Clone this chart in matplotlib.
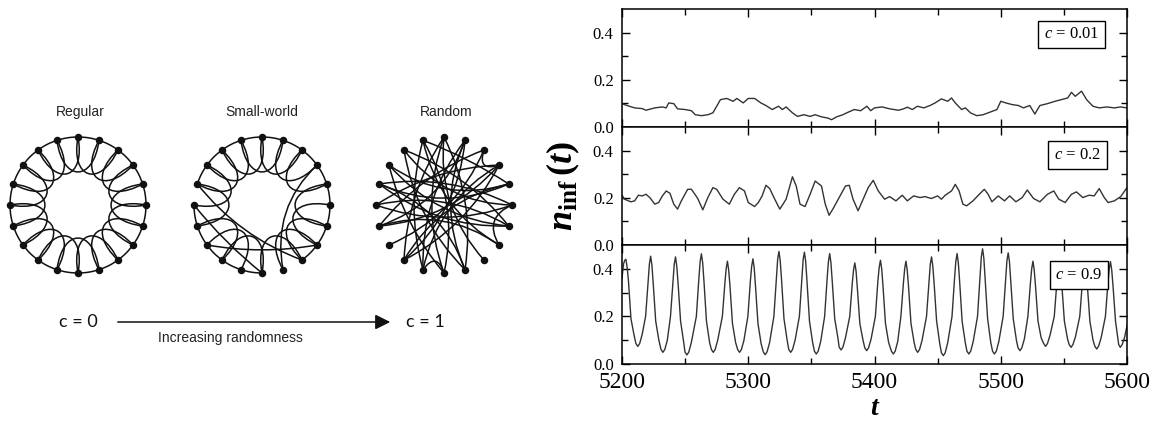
import numpy as np
import matplotlib.pyplot as plt
from matplotlib.path import Path
from matplotlib.patches import PathPatch, Arc, FancyArrowPatch

plt.rcParams['mathtext.fontset'] = 'custom'
plt.rcParams['mathtext.rm'] = 'Liberation Serif'
plt.rcParams['mathtext.it'] = 'Liberation Serif:italic'
plt.rcParams['mathtext.bf'] = 'Liberation Serif:bold'
plt.rcParams['mathtext.bfit'] = 'Liberation Serif:italic:bold'

# ---- networks: 20 nodes, numbered clockwise from the top ----
n_nodes = 20
regular_edges = [(i, (i + 1) % n_nodes) for i in range(n_nodes)] + \
                [(i, (i + 2) % n_nodes) for i in range(n_nodes)]
sw_removed = [(8, 9), (9, 10), (15, 16), (13, 15), (3, 5), (9, 11)]
sw_added = [(16, 8), (15, 10), (3, 9), (13, 7)]
small_world_edges = [e for e in regular_edges if e not in sw_removed] + sw_added
random_edges = [(2, 3), (10, 11), (5, 7), (17, 6), (18, 9), (16, 4), (15, 5),
                (14, 3), (13, 2), (12, 1), (0, 10), (0, 8), (19, 7), (1, 11),
                (18, 5), (17, 4), (16, 6), (14, 1), (12, 3), (10, 19), (9, 0),
                (9, 16), (7, 14), (6, 15), (6, 18), (5, 16), (4, 19), (3, 15),
                (2, 14), (1, 9), (0, 12), (3, 11), (17, 10), (19, 11), (4, 12)]

# ---- time series n_inf(t) ----
t_c001 = [5200, 5204, 5210, 5216, 5219, 5226, 5232, 5235, 5237, 5241, 5244, 5250,
          5255, 5258, 5263, 5268, 5272, 5278, 5283, 5288, 5291, 5296, 5300, 5305,
          5310, 5314, 5319, 5324, 5327, 5330, 5335, 5339, 5344, 5349, 5353, 5358,
          5363, 5366, 5370, 5375, 5378, 5381, 5384, 5389, 5394, 5397, 5400, 5406,
          5412, 5419, 5423, 5426, 5430, 5434, 5439, 5444, 5448, 5453, 5458, 5461,
          5464, 5469, 5472, 5476, 5481, 5486, 5490, 5497, 5500, 5504, 5509, 5514,
          5518, 5523, 5527, 5531, 5537, 5543, 5548, 5553, 5556, 5559, 5564, 5568,
          5573, 5578, 5584, 5590, 5595, 5600]
n_c001 = [0.099, 0.091, 0.081, 0.078, 0.071, 0.081, 0.085, 0.081, 0.102, 0.099,
          0.077, 0.074, 0.069, 0.052, 0.048, 0.052, 0.060, 0.116, 0.121, 0.109,
          0.121, 0.102, 0.121, 0.121, 0.102, 0.091, 0.074, 0.088, 0.074, 0.085,
          0.060, 0.045, 0.052, 0.045, 0.052, 0.043, 0.038, 0.031, 0.043, 0.052,
          0.060, 0.067, 0.074, 0.069, 0.088, 0.069, 0.081, 0.085, 0.077, 0.071,
          0.077, 0.084, 0.074, 0.088, 0.081, 0.091, 0.102, 0.119, 0.109, 0.123,
          0.102, 0.074, 0.081, 0.060, 0.048, 0.052, 0.060, 0.074, 0.109, 0.102,
          0.095, 0.091, 0.081, 0.091, 0.055, 0.091, 0.099, 0.109, 0.116, 0.123,
          0.147, 0.130, 0.152, 0.116, 0.088, 0.081, 0.085, 0.081, 0.085, 0.081]

t_c02 = [5200, 5202, 5207, 5210, 5213, 5216, 5219, 5222, 5226, 5229, 5232, 5235,
         5238, 5241, 5244, 5247, 5252, 5255, 5260, 5264, 5268, 5272, 5275, 5280,
         5285, 5289, 5293, 5297, 5300, 5305, 5308, 5311, 5314, 5317, 5321, 5325,
         5330, 5335, 5338, 5341, 5345, 5349, 5353, 5358, 5361, 5364, 5367, 5372,
         5377, 5380, 5383, 5387, 5391, 5395, 5399, 5403, 5408, 5412, 5417, 5422,
         5426, 5431, 5436, 5440, 5445, 5450, 5453, 5456, 5461, 5464, 5467, 5470,
         5473, 5478, 5483, 5487, 5490, 5493, 5498, 5503, 5507, 5512, 5517, 5521,
         5526, 5531, 5537, 5542, 5546, 5551, 5556, 5560, 5565, 5570, 5574, 5578,
         5582, 5585, 5590, 5595, 5600]
n_c02 = [0.211, 0.194, 0.183, 0.187, 0.211, 0.208, 0.215, 0.201, 0.173, 0.180,
         0.208, 0.229, 0.219, 0.173, 0.152, 0.187, 0.236, 0.236, 0.197, 0.149,
         0.201, 0.243, 0.236, 0.194, 0.173, 0.215, 0.243, 0.229, 0.180, 0.163,
         0.180, 0.208, 0.253, 0.239, 0.194, 0.152, 0.194, 0.289, 0.250, 0.173,
         0.163, 0.215, 0.271, 0.250, 0.173, 0.126, 0.152, 0.201, 0.250, 0.253,
         0.194, 0.145, 0.194, 0.243, 0.274, 0.229, 0.194, 0.205, 0.187, 0.211,
         0.187, 0.208, 0.201, 0.205, 0.197, 0.208, 0.194, 0.211, 0.229, 0.257,
         0.229, 0.173, 0.166, 0.187, 0.215, 0.236, 0.215, 0.183, 0.208, 0.187,
         0.208, 0.183, 0.201, 0.233, 0.197, 0.183, 0.215, 0.229, 0.194, 0.180,
         0.215, 0.225, 0.201, 0.211, 0.208, 0.239, 0.201, 0.180, 0.187, 0.205,
         0.243]

# one row per oscillation (trough ... next trough)
t_c09 = [5200.0, 5201.2, 5202.1, 5203.1, 5204.1, 5205.1, 5207.1, 5209.6, 5211.0,
         5212.5, 5214.0, 5216.0, 5218.7, 5220.7, 5221.7, 5222.7, 5223.7, 5224.7, 5226.7, 5229.2, 5230.9,
         5232.4, 5233.9, 5235.9, 5238.4, 5240.4, 5241.4, 5242.4, 5243.4, 5244.4, 5246.4, 5248.9, 5249.9,
         5251.4, 5252.9, 5254.9, 5258.9, 5260.9, 5261.9, 5262.9, 5263.9, 5264.9, 5266.9, 5269.4, 5270.8,
         5272.3, 5273.8, 5275.8, 5279.5, 5281.5, 5282.5, 5283.5, 5284.5, 5285.5, 5287.5, 5290.0, 5291.6,
         5293.1, 5294.6, 5296.6, 5299.7, 5301.7, 5302.7, 5303.7, 5304.7, 5305.7, 5307.7, 5310.2, 5311.9,
         5313.4, 5314.9, 5316.9, 5320.3, 5322.3, 5323.3, 5324.3, 5325.3, 5326.3, 5328.3, 5330.8, 5332.1,
         5333.6, 5335.1, 5337.1, 5340.5, 5342.5, 5343.5, 5344.5, 5345.5, 5346.5, 5348.5, 5351.0, 5352.4,
         5353.9, 5355.4, 5357.4, 5360.5, 5362.5, 5363.5, 5364.5, 5365.5, 5366.5, 5368.5, 5371.0, 5372.0,
         5373.5, 5375.0, 5377.0, 5380.4, 5382.4, 5383.4, 5384.4, 5385.4, 5386.4, 5388.4, 5390.9, 5392.3,
         5393.8, 5395.3, 5397.3, 5400.7, 5402.7, 5403.7, 5404.7, 5405.7, 5406.7, 5408.7, 5411.2, 5413.4,
         5414.9, 5416.4, 5418.4, 5420.9, 5422.9, 5423.9, 5424.9, 5425.9, 5426.9, 5428.9, 5431.4, 5432.7,
         5434.2, 5435.7, 5437.7, 5441.2, 5443.2, 5444.2, 5445.2, 5446.2, 5447.2, 5449.2, 5451.7, 5453.0,
         5454.5, 5456.0, 5458.0, 5461.4, 5463.4, 5464.4, 5465.4, 5466.4, 5467.4, 5469.4, 5471.9, 5473.2,
         5474.7, 5476.2, 5478.2, 5481.6, 5483.6, 5484.6, 5485.6, 5486.6, 5487.6, 5489.6, 5492.1, 5493.5,
         5495.0, 5496.5, 5498.5, 5501.9, 5503.9, 5504.9, 5505.9, 5506.9, 5507.9, 5509.9, 5512.4, 5513.7,
         5515.2, 5516.7, 5518.7, 5521.5, 5523.5, 5524.5, 5525.5, 5526.5, 5527.5, 5529.5, 5532.0, 5534.0,
         5535.5, 5537.0, 5539.0, 5542.4, 5544.4, 5545.4, 5546.4, 5547.4, 5548.4, 5550.4, 5552.9, 5554.2,
         5555.7, 5557.2, 5559.2, 5562.6, 5564.6, 5565.6, 5566.6, 5567.6, 5568.6, 5570.6, 5573.1, 5574.5,
         5576.0, 5577.5, 5579.5, 5582.9, 5584.9, 5585.9, 5586.9, 5587.9, 5588.9, 5590.9, 5592.4, 5593.4,
         5594.7, 5596.2, 5598.0, 5600.0]
n_c09 = [0.36, 0.42, 0.435, 0.44, 0.405, 0.35, 0.19, 0.12, 0.086,
         0.074, 0.086, 0.125, 0.20, 0.35, 0.42, 0.453, 0.415, 0.34, 0.18, 0.10, 0.061,
         0.049, 0.061, 0.10, 0.20, 0.35, 0.42, 0.450, 0.41, 0.34, 0.18, 0.09, 0.050,
         0.038, 0.050, 0.09, 0.20, 0.36, 0.43, 0.463, 0.425, 0.35, 0.18, 0.09, 0.061,
         0.049, 0.061, 0.10, 0.20, 0.34, 0.40, 0.432, 0.395, 0.33, 0.17, 0.09, 0.061,
         0.049, 0.061, 0.10, 0.20, 0.35, 0.41, 0.442, 0.405, 0.33, 0.17, 0.085, 0.051,
         0.039, 0.051, 0.09, 0.20, 0.36, 0.44, 0.473, 0.435, 0.36, 0.19, 0.10, 0.061,
         0.049, 0.061, 0.10, 0.20, 0.36, 0.44, 0.470, 0.43, 0.35, 0.18, 0.09, 0.054,
         0.042, 0.054, 0.095, 0.20, 0.36, 0.43, 0.464, 0.425, 0.35, 0.19, 0.11, 0.071,
         0.059, 0.071, 0.11, 0.20, 0.34, 0.395, 0.425, 0.39, 0.32, 0.17, 0.10, 0.068,
         0.056, 0.068, 0.105, 0.20, 0.35, 0.405, 0.436, 0.40, 0.33, 0.17, 0.09, 0.054,
         0.042, 0.054, 0.095, 0.20, 0.34, 0.40, 0.432, 0.395, 0.33, 0.17, 0.09, 0.061,
         0.049, 0.061, 0.10, 0.20, 0.35, 0.42, 0.450, 0.41, 0.34, 0.18, 0.085, 0.047,
         0.035, 0.047, 0.09, 0.20, 0.36, 0.43, 0.464, 0.425, 0.35, 0.18, 0.09, 0.054,
         0.042, 0.054, 0.095, 0.20, 0.37, 0.45, 0.484, 0.445, 0.36, 0.19, 0.09, 0.054,
         0.042, 0.054, 0.095, 0.20, 0.36, 0.435, 0.467, 0.43, 0.35, 0.19, 0.10, 0.068,
         0.056, 0.068, 0.105, 0.20, 0.34, 0.40, 0.432, 0.395, 0.33, 0.18, 0.11, 0.086,
         0.074, 0.086, 0.12, 0.20, 0.34, 0.40, 0.430, 0.395, 0.33, 0.18, 0.105, 0.082,
         0.070, 0.082, 0.115, 0.20, 0.34, 0.40, 0.430, 0.395, 0.33, 0.18, 0.10, 0.075,
         0.063, 0.075, 0.11, 0.20, 0.34, 0.40, 0.430, 0.395, 0.33, 0.18, 0.12, 0.082,
         0.070, 0.082, 0.11, 0.16]

series = [(t_c001, n_c001, '0.01'), (t_c02, n_c02, '0.2'), (t_c09, n_c09, '0.9')]

fig = plt.figure(figsize=(11.57, 4.22), dpi=100)

# left half drawn in pixel-like units (y downwards)
axn = fig.add_axes([0, 0, 544 / 1157, 1])
axn.set_xlim(0, 544)
axn.set_ylim(422, 0)
axn.axis('off')

R = 68
ink = '#111111'


def node_xy(cx, cy, i):
    a = np.deg2rad(18 * i - 90)
    return np.array([cx + R * np.cos(a), cy + R * np.sin(a)])


def curve(pts, codes):
    axn.add_patch(PathPatch(Path(pts, codes), fc='none', ec=ink, lw=1.1))


def draw_network(cx, cy, edges, ring_style=True):
    c = np.array([cx, cy])
    for a, b in edges:
        d = (b - a) % n_nodes
        pa, pb = node_xy(cx, cy, a), node_xy(cx, cy, b)
        if ring_style and d in (1, n_nodes - 1):
            s = a if d == 1 else b
            axn.add_patch(Arc((cx, cy), 2 * R, 2 * R, theta1=18 * s - 90,
                              theta2=18 * s - 72, color=ink, lw=1.1))
        elif ring_style and d in (2, n_nodes - 2):
            # second-neighbour link: U-shaped loop dipping towards the centre
            mid = (pa + pb) / 2
            u = (mid - c) / np.linalg.norm(mid - c)
            side = (pb - pa) / np.linalg.norm(pb - pa)
            ca = pa - 0.62 * R * u + 0.08 * R * side
            cb = pb - 0.62 * R * u - 0.08 * R * side
            curve([pa, ca, cb, pb], [Path.MOVETO, Path.CURVE4, Path.CURVE4, Path.CURVE4])
        else:
            mid = (pa + pb) / 2
            vec = pb - pa
            perp = np.array([-vec[1], vec[0]])
            ctrl = mid + 0.18 * perp + 0.25 * (c - mid)
            curve([pa, ctrl, pb], [Path.MOVETO, Path.CURVE3, Path.CURVE3])
    pts = np.array([node_xy(cx, cy, i) for i in range(n_nodes)])
    axn.plot(pts[:, 0], pts[:, 1], 'o', ms=4.4, color=ink, zorder=5)


draw_network(78, 205, regular_edges)
draw_network(262, 205, small_world_edges)
draw_network(444, 205, random_edges, ring_style=False)

lab = dict(family='Liberation Sans', fontsize=10, color='#222222', ha='center', va='center')
axn.text(80, 112, 'Regular', **lab)
axn.text(262, 112, 'Small-world', **lab)
axn.text(446, 112, 'Random', **lab)
axn.text(230, 338, 'Increasing randomness', **lab)
axn.text(78, 322, 'c = 0', family='Lato', fontsize=13, ha='center', va='center', color='#111111')
axn.text(425, 322, 'c = 1', family='Lato', fontsize=13, ha='center', va='center', color='#111111')
axn.add_patch(FancyArrowPatch((115, 322), (393, 322), arrowstyle='-|>,head_length=7,head_width=3.5',
                              color='#111111', lw=1.1, mutation_scale=1.3))

# right half: three stacked time series
x0, w = 622 / 1157, 505 / 1157
panels = [(9, 127), (127, 245), (245, 364)]
box_pos = [(0.891, 0.784), (0.902, 0.763), (0.905, 0.748)]
for k, ((top, bot), (t, n, cval)) in enumerate(zip(panels, series)):
    ax = fig.add_axes([x0, 1 - bot / 422, w, (bot - top) / 422])
    ax.plot(t, n, color='#333333', lw=1.0)
    ax.set_xlim(5200, 5600)
    ax.set_ylim(0, 0.5)
    ax.set_xticks([5200, 5300, 5400, 5500, 5600])
    ax.set_xticks([5250, 5350, 5450, 5550], minor=True)
    ax.set_yticks([0.0, 0.2, 0.4])
    ax.set_yticks([0.1, 0.3], minor=True)
    ax.set_yticklabels(['0.0', '0.2', '0.4'], family='Liberation Serif', fontsize=12)
    ax.tick_params(which='both', direction='in', top=True, right=True, width=1.0)
    ax.tick_params(which='major', length=6, pad=6)
    ax.tick_params(which='minor', length=4)
    for sp in ax.spines.values():
        sp.set_linewidth(1.1)
    if k < 2:
        ax.set_xticklabels([])
    else:
        ax.set_xticklabels(['5200', '5300', '5400', '5500', '5600'],
                           family='Liberation Serif', fontsize=17)
        ax.tick_params(axis='x', which='major', pad=6)
    bx, by = box_pos[k]
    ax.text(bx, by, r'$c$ = ' + cval, transform=ax.transAxes, ha='center', va='center',
            family='Liberation Serif', fontsize=12, zorder=6,
            bbox=dict(boxstyle='square,pad=0.35', fc='white', ec='black', lw=1.0))

fig.text(563 / 1157, 1 - 186 / 422, r'$\mathbfit{n}_{\mathbf{inf}}\,\mathbf{(}\mathbfit{t}\mathbf{)}$',
         rotation=90, ha='center', va='center', fontsize=26)
fig.text(875 / 1157, 1 - 421 / 422, r'$\mathbfit{t}$', ha='center', va='bottom', fontsize=20)

fig.savefig('out.png', dpi=100)
